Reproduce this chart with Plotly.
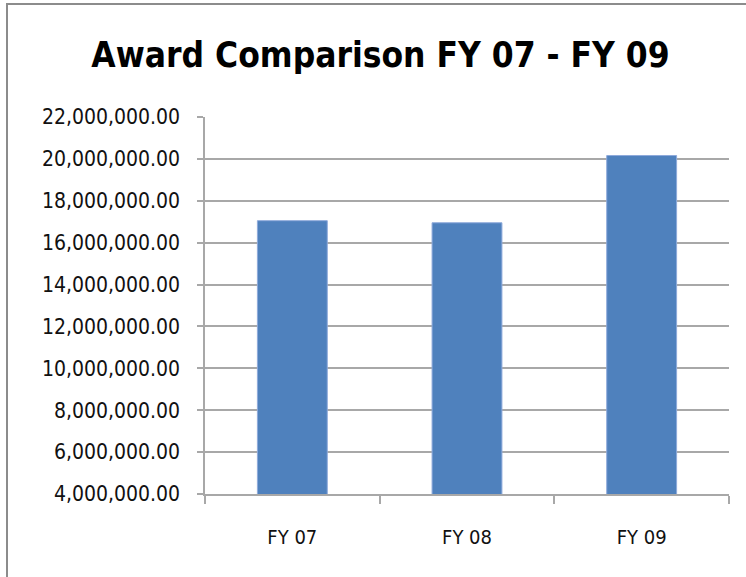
import plotly.graph_objects as go

categories = ["FY 07", "FY 08", "FY 09"]
awards = [17050000, 16950000, 20160000]
y_ticks = [4000000, 6000000, 8000000, 10000000, 12000000, 14000000,
           16000000, 18000000, 20000000, 22000000]
y_tick_labels = [f"{v:,.2f}" for v in y_ticks]

W, H = 746, 577
L, R, T, B = 205, 17, 117, 83
pw, ph = W - L - R, H - T - B

FONT = "DejaVu Sans Condensed, sans-serif"
GRID = "#A8A8A8"

fig = go.Figure(go.Bar(
    x=categories, y=awards,
    marker=dict(color="#4F81BD", line=dict(color="#8EAADB", width=1)),
))

def px_x(p):
    return (p - L) / pw

def px_y(p):
    return (H - B - p) / ph

fig.update_layout(
    width=W, height=H,
    margin=dict(l=L, r=R, t=T, b=B, autoexpand=False),
    paper_bgcolor="white", plot_bgcolor="white",
    bargap=0.6,
    showlegend=False,
    font=dict(family=FONT, color="#111111", size=20),
    title=dict(text="<b>Award Comparison FY 07 - FY 09</b>",
               font=dict(family=FONT, size=35, color="black"),
               x=380.5 / W, xanchor="center", xref="container",
               y=1 - 55 / H, yanchor="middle", yref="container"),
    xaxis=dict(type="category", showgrid=False, showline=True, linecolor=GRID,
               linewidth=1.5, ticks="outside", tickson="boundaries", ticklen=8,
               tickcolor=GRID, tickwidth=1.5, ticklabelstandoff=24, automargin=False,
               tickfont=dict(size=20, color="#111111")),
    yaxis=dict(range=[4000000, 22000000], tickvals=y_ticks, ticktext=y_tick_labels,
               showgrid=True, gridcolor=GRID, gridwidth=1.5, showline=True,
               linecolor=GRID, linewidth=1.5, ticks="outside", ticklen=6,
               tickcolor=GRID, tickwidth=1.5, ticklabelstandoff=13, zeroline=False,
               automargin=False, tickfont=dict(size=21, color="#111111")),
    shapes=[dict(type="rect", xref="paper", yref="paper",
                 x0=px_x(7), x1=px_x(760), y0=px_y(600), y1=px_y(4),
                 line=dict(color="#8C8C8C", width=2), fillcolor="rgba(0,0,0,0)",
                 layer="above")],
)

fig.write_html("out.html", config={"displayModeBar": False},
               post_script="document.body.style.margin='0';document.body.style.overflow='hidden';")
